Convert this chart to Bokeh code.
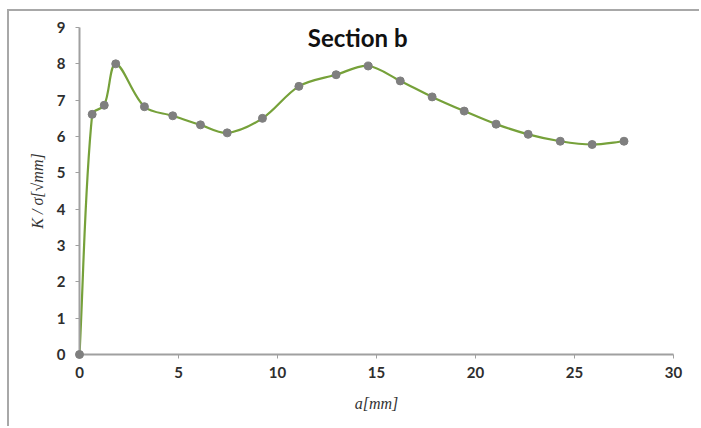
import numpy as np
from bokeh.plotting import figure
from bokeh.models import Range1d, Label, FixedTicker
from bokeh.embed import file_html
from bokeh.resources import INLINE

# Data
crack_length = [0.0, 0.64, 1.25, 1.83, 3.28, 4.71, 6.11, 7.46, 9.24, 11.08, 12.96,
                14.58, 16.2, 17.81, 19.43, 21.04, 22.66, 24.28, 25.89, 27.5]
k_over_sigma = [0.0, 6.61, 6.86, 8.0, 6.82, 6.57, 6.32, 6.10, 6.50, 7.38, 7.70,
                7.94, 7.53, 7.09, 6.70, 6.34, 6.06, 5.87, 5.78, 5.87]
x_ticks = [0, 5, 10, 15, 20, 25, 30]
y_ticks = [0, 1, 2, 3, 4, 5, 6, 7, 8, 9]
title_text = "Section b"

p = figure(width=692, height=417, output_backend="svg", toolbar_location=None,
           x_range=Range1d(0, 30), y_range=Range1d(0, 9),
           min_border_left=70, min_border_right=28, min_border_top=16, min_border_bottom=74)
p.styles = {"margin-left": "7px", "margin-top": "9px",
            "border-left": "2px solid #a8a8a8", "border-top": "2px solid #a8a8a8"}
p.outline_line_color = None
p.xgrid.grid_line_color = None
p.ygrid.grid_line_color = None
p.background_fill_color = "white"
p.border_fill_color = "white"

# Smoothed line: Bezier segments through the points, handle lengths scaled by
# neighbouring segment lengths (in approximate screen proportions) to avoid overshoot
xs = np.array(crack_length)
ys = np.array(k_over_sigma)
sx, sy = 19.8, 36.4
xp = np.concatenate([[xs[0]], xs, [xs[-1]]])
yp = np.concatenate([[ys[0]], ys, [ys[-1]]])
seg = np.hypot(np.diff(xp) * sx, np.diff(yp) * sy)
m = len(xs)
tx = xp[2:m + 2] - xp[0:m]
ty = yp[2:m + 2] - yp[0:m]
dprev = seg[0:m]
dnext = seg[1:m + 1]
tot = dprev + dnext
tot[tot == 0] = 1.0
k_out = (1.0 / 3.0) * dnext / tot
k_in = (1.0 / 3.0) * dprev / tot
x0 = xs[:-1]; y0 = ys[:-1]; x1 = xs[1:]; y1 = ys[1:]
cx0 = xs[:-1] + tx[:-1] * k_out[:-1]
cy0 = ys[:-1] + ty[:-1] * k_out[:-1]
cx1 = xs[1:] - tx[1:] * k_in[1:]
cy1 = ys[1:] - ty[1:] * k_in[1:]
p.bezier(x0=x0, y0=y0, x1=x1, y1=y1, cx0=cx0, cy0=cy0, cx1=cx1, cy1=cy1,
         line_color="#76a13a", line_width=2.2)
r = p.scatter(crack_length, k_over_sigma, size=8, fill_color="#7f7f7f", line_color="#7f7f7f")
r.level = "overlay"

for ax in (p.xaxis[0], p.yaxis[0]):
    ax.axis_line_color = "#a0a0a0"
    ax.axis_line_width = 2
    ax.major_tick_line_color = "#a0a0a0"
    ax.major_tick_line_width = 1
    ax.minor_tick_line_color = None
    ax.major_tick_in = 0
    ax.major_tick_out = 4
    ax.major_label_text_font = "Lato"
    ax.major_label_text_font_style = "bold"
    ax.major_label_text_font_size = "15px"
    ax.major_label_text_color = "#2e2e2e"
    ax.axis_label_text_font = "Liberation Serif"
    ax.axis_label_text_font_style = "italic"
    ax.axis_label_text_font_size = "16px"
    ax.axis_label_text_color = "#333333"

p.xaxis[0].ticker = FixedTicker(ticks=x_ticks)
p.yaxis[0].ticker = FixedTicker(ticks=y_ticks)
p.xaxis[0].major_label_standoff = 8
p.yaxis[0].major_label_standoff = 10
p.xaxis[0].axis_label = "a[mm]"
p.yaxis[0].axis_label = "K / σ[√mm]"
p.xaxis[0].axis_label_standoff = 14
p.yaxis[0].axis_label_standoff = 8

title = Label(x=14.05, y=8.72, text=title_text,
              text_font="Lato", text_font_style="bold", text_font_size="24px",
              text_color="#111111", text_align="center", text_baseline="middle")
p.add_layout(title)

open("out.html", "w").write(file_html(p, INLINE))
